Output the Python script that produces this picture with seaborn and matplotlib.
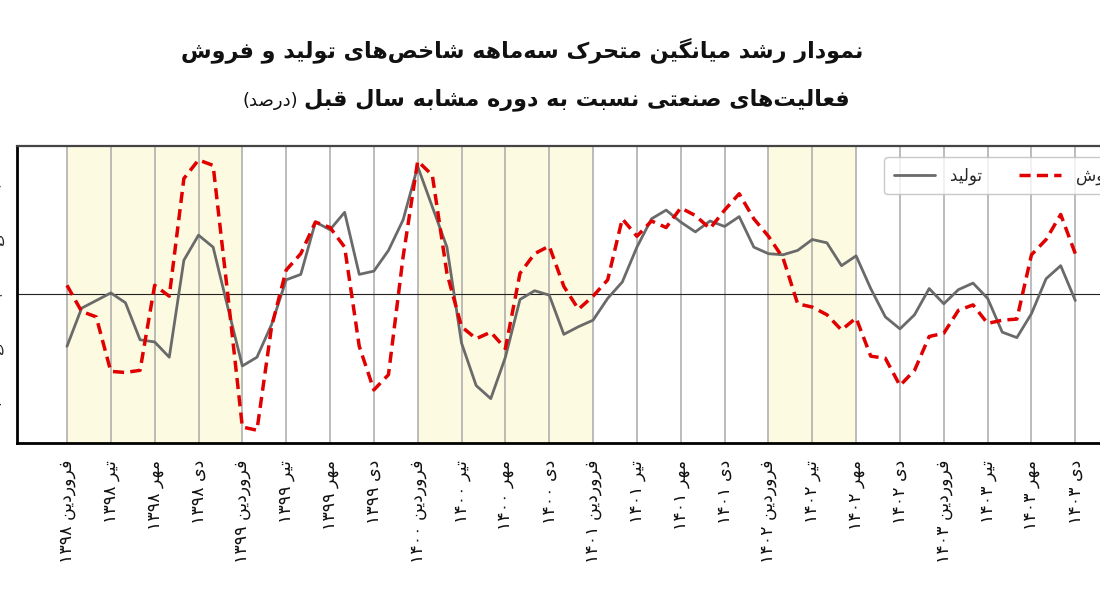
import matplotlib
matplotlib.use("Agg")
import matplotlib.pyplot as plt
from matplotlib.lines import Line2D
import seaborn as sns
import pandas as pd
import numpy as np

# ---------------- data ----------------
months = ['فروردین', 'تیر', 'مهر', 'دی']
years = ['۱۳۹۸', '۱۳۹۹', '۱۴۰۰', '۱۴۰۱', '۱۴۰۲', '۱۴۰۳']

production = [
    -4.8, -1.3, -0.6, 0.1, -0.8, -4.2, -4.4, -5.8, 3.1, 5.4, 4.3, -1.2,
    -6.6, -5.8, -2.8, 1.3, 1.8, 6.6, 5.9, 7.5, 1.8, 2.1, 4.0, 6.8,
    11.7, 8.0, 4.3, -4.5, -8.4, -9.6, -5.8, -0.5, 0.3, -0.1, -3.7, -3.0,
    -2.4, -0.4, 1.1, 4.3, 6.9, 7.7, 6.6, 5.7, 6.7, 6.2, 7.1, 4.3,
    3.7, 3.6, 4.0, 5.0, 4.7, 2.6, 3.5, 0.5, -2.1, -3.2, -1.9, 0.5,
    -0.9, 0.4, 1.0, -0.4, -3.5, -4.0, -1.8, 1.4, 2.6, -0.6,
]
sales = [
    0.8, -1.6, -2.1, -7.1, -7.2, -7.0, 0.8, -0.2, 10.6, 12.3, 11.8, 0.0,
    -12.2, -12.5, -3.0, 2.2, 3.7, 6.6, 6.1, 4.3, -4.8, -8.8, -7.4, 3.4,
    12.2, 10.9, 1.9, -3.0, -4.1, -3.5, -5.0, 1.9, 3.7, 4.4, 0.7, -1.4,
    -0.2, 1.3, 6.9, 5.3, 6.7, 6.1, 7.9, 7.2, 6.0, 7.7, 9.2, 6.9,
    5.3, 3.3, -0.9, -1.2, -1.9, -3.3, -2.2, -5.7, -5.9, -8.4, -7.0, -3.9,
    -3.6, -1.5, -1.0, -2.7, -2.4, -2.3, 3.6, 5.0, 7.3, 3.7,
]
series_names = ['تولید', 'فروش']
shaded_periods = [(0, 12), (24, 36), (48, 54)]   # month index ranges
y_ticks = [-10, -5, 0, 5, 10]
y_tick_labels = ['-۱۰', '-۵', '۰', '۵', '۱۰']

title_line1 = 'نمودار رشد میانگین متحرک سه\u200cماهه شاخص\u200cهای تولید و فروش'
title_line2 = 'فعالیت\u200cهای صنعتی نسبت به دوره مشابه سال قبل'
title_unit = '(درصد)'

# ---------------- minimal Persian shaping + bidi ----------------
FORMS = {
    'ا': ('\uFE8D', '\uFE8E', None, None), 'آ': ('\uFE81', '\uFE82', None, None),
    'ب': ('\uFE8F', '\uFE90', '\uFE91', '\uFE92'), 'پ': ('\uFB56', '\uFB57', '\uFB58', '\uFB59'),
    'ت': ('\uFE95', '\uFE96', '\uFE97', '\uFE98'), 'ث': ('\uFE99', '\uFE9A', '\uFE9B', '\uFE9C'),
    'ج': ('\uFE9D', '\uFE9E', '\uFE9F', '\uFEA0'), 'چ': ('\uFB7A', '\uFB7B', '\uFB7C', '\uFB7D'),
    'ح': ('\uFEA1', '\uFEA2', '\uFEA3', '\uFEA4'), 'خ': ('\uFEA5', '\uFEA6', '\uFEA7', '\uFEA8'),
    'د': ('\uFEA9', '\uFEAA', None, None), 'ذ': ('\uFEAB', '\uFEAC', None, None),
    'ر': ('\uFEAD', '\uFEAE', None, None), 'ز': ('\uFEAF', '\uFEB0', None, None),
    'ژ': ('\uFB8A', '\uFB8B', None, None),
    'س': ('\uFEB1', '\uFEB2', '\uFEB3', '\uFEB4'), 'ش': ('\uFEB5', '\uFEB6', '\uFEB7', '\uFEB8'),
    'ص': ('\uFEB9', '\uFEBA', '\uFEBB', '\uFEBC'), 'ض': ('\uFEBD', '\uFEBE', '\uFEBF', '\uFEC0'),
    'ط': ('\uFEC1', '\uFEC2', '\uFEC3', '\uFEC4'), 'ظ': ('\uFEC5', '\uFEC6', '\uFEC7', '\uFEC8'),
    'ع': ('\uFEC9', '\uFECA', '\uFECB', '\uFECC'), 'غ': ('\uFECD', '\uFECE', '\uFECF', '\uFED0'),
    'ف': ('\uFED1', '\uFED2', '\uFED3', '\uFED4'), 'ق': ('\uFED5', '\uFED6', '\uFED7', '\uFED8'),
    'ک': ('\uFB8E', '\uFB8F', '\uFB90', '\uFB91'), 'گ': ('\uFB92', '\uFB93', '\uFB94', '\uFB95'),
    'ل': ('\uFEDD', '\uFEDE', '\uFEDF', '\uFEE0'), 'م': ('\uFEE1', '\uFEE2', '\uFEE3', '\uFEE4'),
    'ن': ('\uFEE5', '\uFEE6', '\uFEE7', '\uFEE8'), 'ه': ('\uFEE9', '\uFEEA', '\uFEEB', '\uFEEC'),
    'و': ('\uFEED', '\uFEEE', None, None),
    'ی': ('\uFBFC', '\uFBFD', '\uFBFE', '\uFBFF'),
}


def _shape(s):
    out = []
    n = len(s)
    k = 0
    while k < n:
        c = s[k]
        if c not in FORMS:
            if c != '\u200c':
                out.append(c)
            k += 1
            continue
        prev = s[k - 1] if k > 0 else ''
        joins_prev = prev in FORMS and FORMS[prev][2] is not None
        if c == 'ل' and k + 1 < n and s[k + 1] == 'ا':
            out.append('\uFEFC' if joins_prev else '\uFEFB')
            k += 2
            continue
        nxt = s[k + 1] if k + 1 < n else ''
        joins_next = nxt in FORMS and FORMS[c][2] is not None
        iso, fin, ini, med = FORMS[c]
        if joins_prev and joins_next:
            out.append(med)
        elif joins_prev:
            out.append(fin)
        elif joins_next:
            out.append(ini)
        else:
            out.append(iso)
        k += 1
    return ''.join(out)


def fa(s):
    shaped = _shape(s)
    digits = set('۰۱۲۳۴۵۶۷۸۹0123456789')
    runs, cur, cur_d = [], '', None
    for ch in shaped:
        d = ch in digits
        if cur and d != cur_d:
            runs.append((cur, cur_d))
            cur = ''
        cur += ch
        cur_d = d
    if cur:
        runs.append((cur, cur_d))
    mirror = {'(': ')', ')': '('}
    vis = []
    for txt, d in reversed(runs):
        if d:
            vis.append(txt)
        else:
            vis.append(''.join(mirror.get(ch, ch) for ch in reversed(txt)))
    return ''.join(vis)


# ---------------- figure ----------------
sns.set_theme(style='white')
plt.rcParams['font.family'] = ['DejaVu Sans']

W, H = 1100, 600
fig = plt.figure(figsize=(11, 6), dpi=100)
ax_left, ax_right, ax_top, ax_bottom = 17, 1125, 146, 443
ax = fig.add_axes([ax_left / W, 1 - ax_bottom / H, (ax_right - ax_left) / W, (ax_bottom - ax_top) / H])

n = len(production)
idx = np.arange(n)
df = pd.DataFrame({'month': np.concatenate([idx, idx]),
                   'value': production + sales,
                   'series': [series_names[0]] * n + [series_names[1]] * n})

# shaded bands
for a, b in shaded_periods:
    ax.axvspan(a, b, color='#fdfae2', zorder=0, lw=0)

tick_pos = np.arange(0, n, 3)
for t in tick_pos:
    ax.axvline(t, color='#a9a9a9', lw=1.1, zorder=1)
ax.axhline(0, color='#222222', lw=0.8, zorder=2)

sns.lineplot(data=df[df.series == series_names[0]], x='month', y='value', ax=ax,
             color='#6a6a6a', lw=2.0, zorder=3, legend=False)
sns.lineplot(data=df[df.series == series_names[1]], x='month', y='value', ax=ax,
             color='#e00000', lw=2.5, zorder=4, legend=False, dashes=False)
ax.lines[-1].set_dashes([3.2, 1.8])

ax.set_xlim(-3.42, 72.4)
ax.set_ylim(-13.67, 13.58)
ax.set_xlabel('')
ax.set_ylabel('')

xlabels = [fa(f'{m} {y}') for y in years for m in months]
ax.set_xticks(tick_pos)
ax.set_xticklabels(xlabels, rotation=90, fontsize=12.5, color='#111111')
ax.set_yticks(y_ticks)
ax.set_yticklabels(y_tick_labels, fontsize=10.5)
ax.tick_params(axis='x', direction='out', length=6, width=1.3, color='black', pad=6)
ax.tick_params(axis='y', direction='out', length=6, width=1.3, color='black', pad=3)

for side in ['left', 'bottom']:
    ax.spines[side].set_color('black')
    ax.spines[side].set_linewidth(2.0)
ax.spines['top'].set_color('#444444')
ax.spines['top'].set_linewidth(1.6)
ax.spines['right'].set_visible(False)

handles = [Line2D([], [], color='#6a6a6a', lw=2.0),
           Line2D([], [], color='#e00000', lw=2.5, dashes=[3.2, 1.8])]
leg = ax.legend(handles, [fa(s) for s in series_names], ncol=2,
                loc='upper left', bbox_to_anchor=(876 / W, 1 - 149 / H),
                bbox_transform=fig.transFigure, fontsize=12, frameon=True,
                handlelength=2.5, handletextpad=0.9, columnspacing=2.2,
                borderpad=0.55, fancybox=True)
leg.get_frame().set_edgecolor('#bbbbbb')
leg.get_frame().set_linewidth(1.0)

# titles
fig.text(522 / W, 1 - 50 / H, fa(title_line1), ha='center', va='center',
         fontsize=16, fontweight='bold', color='#111111')
t2 = fig.text(850 / W, 1 - 100 / H, fa(title_line2), ha='right', va='center',
              fontsize=16, fontweight='bold', color='#111111')
fig.canvas.draw()
bb = t2.get_window_extent()
fig.text((bb.x0 - 6) / W, 1 - 101 / H, fa(title_unit), ha='right', va='center',
         fontsize=13, color='#111111')

fig.savefig('out.png', dpi=100)
